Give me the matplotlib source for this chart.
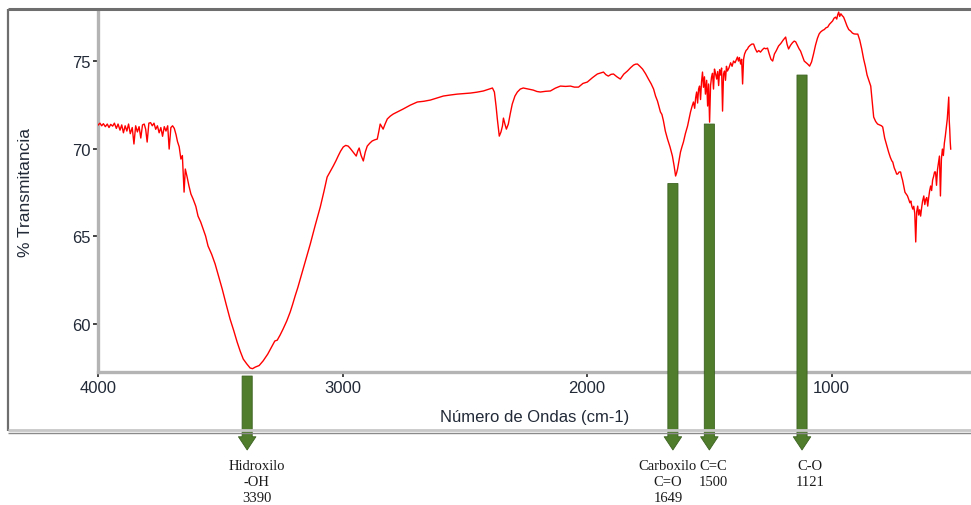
import matplotlib
matplotlib.use("Agg")
import matplotlib.pyplot as plt
from matplotlib.lines import Line2D
from matplotlib.ticker import MultipleLocator

plt.rcParams["font.family"] = ["Liberation Sans", "DejaVu Sans"]

# FTIR spectrum, split in three wavenumber ranges (cm-1) with % transmittance
wn_high = [
    4000, 3992, 3985, 3978, 3970, 3962, 3955, 3948, 3940, 3933,
    3925, 3918, 3910, 3903, 3896, 3889, 3882, 3875, 3868, 3860,
    3853, 3846, 3839, 3832, 3825, 3818, 3811, 3805, 3799, 3792,
    3785, 3778, 3771, 3764, 3757, 3750, 3743, 3736, 3729, 3722,
    3715, 3709, 3702, 3695, 3688, 3681, 3675, 3668, 3661, 3655,
    3648, 3643, 3636, 3628, 3620, 3611, 3600, 3591, 3580, 3570,
    3560, 3550, 3535, 3521, 3507, 3492, 3476, 3460, 3445, 3431,
    3418, 3406, 3392, 3378, 3368, 3357, 3341, 3325, 3306, 3288,
    3277, 3267, 3255, 3243, 3228, 3214, 3204, 3194, 3183, 3173,
    3152, 3132, 3112, 3091, 3076, 3063, 3050, 3038, 3027, 3018,
    3008, 2997, 2987, 2977, 2968, 2960, 2952, 2944, 2938, 2932,
    2924, 2915, 2907, 2899, 2889, 2879, 2868, 2858, 2852, 2846,
    2840, 2834, 2826, 2817, 2805, 2793, 2772, 2752, 2723, 2694,
    2668, 2641, 2615, 2588, 2559, 2531, 2504, 2477, 2451, 2424,
]
t_high = [
    71.34, 71.45, 71.30, 71.42, 71.25, 71.40, 71.20, 71.38, 71.28, 71.45,
    71.15, 71.40, 71.05, 71.35, 70.90, 71.30, 71.00, 71.40, 70.85, 71.20,
    70.26, 71.30, 70.95, 71.25, 70.60, 71.35, 71.40, 71.10, 70.37, 71.45,
    71.48, 71.30, 71.45, 71.10, 71.30, 70.90, 71.20, 70.70, 71.25, 71.00,
    71.30, 69.97, 71.20, 71.30, 71.15, 70.80, 70.40, 70.10, 69.40, 69.60,
    67.51, 68.83, 68.40, 67.86, 67.40, 67.11, 66.70, 66.14, 65.80, 65.40,
    65.00, 64.43, 63.95, 63.40, 62.70, 61.97, 61.10, 60.26, 59.60, 58.94,
    58.40, 57.97, 57.70, 57.46, 57.42, 57.51, 57.60, 57.86, 58.25, 58.71,
    59.00, 59.05, 59.35, 59.69, 60.15, 60.66, 61.10, 61.57, 62.05, 62.54,
    63.55, 64.54, 65.60, 66.66, 67.55, 68.37, 68.70, 69.00, 69.30, 69.57,
    69.85, 70.09, 70.18, 70.14, 70.00, 69.86, 69.72, 69.57, 69.85, 70.03,
    69.60, 69.29, 69.80, 70.14, 70.30, 70.43, 70.50, 70.54, 70.95, 71.40,
    71.25, 71.11, 71.40, 71.69, 71.85, 71.97, 72.12, 72.26, 72.48, 72.66,
    72.70, 72.77, 72.88, 73.00, 73.06, 73.11, 73.14, 73.17, 73.22, 73.29,
]

wn_mid = [
    2405, 2387, 2379, 2372, 2367, 2359, 2352, 2346, 2342, 2336,
    2330, 2322, 2314, 2306, 2295, 2285, 2273, 2261, 2240, 2220,
    2205, 2191, 2170, 2150, 2130, 2109, 2088, 2068, 2052, 2035,
    2017, 1999, 1978, 1958, 1945, 1933, 1923, 1913, 1902, 1892,
    1878, 1864, 1850, 1835, 1822, 1810, 1802, 1794, 1784, 1773,
    1761, 1749, 1738, 1728, 1720, 1712, 1706, 1700, 1694, 1688,
    1680, 1671, 1661, 1651, 1644, 1638, 1634, 1630, 1624, 1618,
    1612, 1606, 1598, 1589, 1583, 1577, 1571, 1565, 1560, 1556,
    1552, 1548, 1544, 1540, 1536, 1532, 1528, 1524, 1520, 1516,
    1511, 1507, 1503, 1499, 1495, 1491, 1487, 1483, 1479, 1475,
    1470, 1466, 1462, 1458, 1454, 1450, 1446, 1442, 1438, 1434,
]
t_mid = [
    73.38, 73.46, 73.23, 72.40, 71.69, 70.71, 70.95, 71.29, 71.74, 71.40,
    71.11, 71.40, 72.00, 72.54, 73.00, 73.23, 73.40, 73.46, 73.40, 73.34,
    73.26, 73.23, 73.27, 73.29, 73.45, 73.57, 73.55, 73.57, 73.51, 73.51,
    73.72, 73.80, 74.05, 74.26, 74.32, 74.37, 74.22, 74.14, 74.24, 74.26,
    74.10, 73.97, 74.25, 74.43, 74.62, 74.77, 74.82, 74.83, 74.70, 74.54,
    74.28, 73.97, 73.70, 73.40, 73.00, 72.71, 72.40, 72.09, 71.95, 71.60,
    71.00, 70.54, 70.10, 69.57, 69.00, 68.43, 68.60, 68.83, 69.30, 69.80,
    70.10, 70.37, 70.85, 71.29, 71.70, 72.09, 72.40, 72.66, 72.30, 72.90,
    73.23, 72.60, 73.40, 73.57, 72.80, 73.80, 74.37, 73.50, 74.10, 73.11,
    73.90, 72.43, 73.69, 71.51, 73.60, 74.09, 74.30, 73.40, 74.54, 74.30,
    73.97, 74.40, 73.60, 74.50, 74.20, 74.60, 72.14, 74.26, 74.43, 73.90,
]

wn_low = [
    1430, 1426, 1420, 1413, 1407, 1401, 1395, 1389, 1385, 1381,
    1377, 1372, 1368, 1364, 1360, 1356, 1350, 1344, 1340, 1333,
    1326, 1319, 1312, 1305, 1298, 1291, 1283, 1276, 1269, 1262,
    1255, 1248, 1241, 1234, 1226, 1217, 1208, 1198, 1188, 1182,
    1176, 1168, 1160, 1153, 1147, 1140, 1133, 1127, 1120, 1112,
    1104, 1098, 1090, 1082, 1074, 1066, 1058, 1051, 1045, 1037,
    1030, 1023, 1016, 1009, 1002, 996, 990, 984, 979, 975,
    971, 967, 962, 957, 951, 945, 937, 930, 922, 915,
    908, 900, 893, 885, 877, 869, 862, 855, 848, 840,
    834, 828, 820, 812, 804, 796, 791, 783, 775, 767,
    760, 754, 750, 744, 738, 734, 730, 724, 718, 714,
    710, 705, 700, 695, 690, 685, 680, 676, 672, 668,
    664, 660, 656, 652, 648, 644, 640, 636, 632, 628,
    623, 619, 615, 611, 607, 603, 599, 595, 591, 587,
    583, 579, 575, 571, 567, 563, 559, 555, 551, 547,
    543, 539, 535, 531, 527, 524, 521, 519, 517, 515,
    513,
]
t_low = [
    74.70, 74.43, 74.60, 74.90, 74.70, 75.00, 74.90, 75.10, 75.23, 75.00,
    75.20, 74.83, 75.10, 73.69, 75.11, 75.40, 75.60, 75.69, 75.80, 75.90,
    75.97, 75.97, 75.70, 75.51, 75.60, 75.51, 75.65, 75.74, 75.70, 75.74,
    75.40, 75.10, 75.00, 75.40, 75.60, 75.86, 76.00, 76.20, 76.37, 75.95,
    75.69, 75.90, 76.05, 76.14, 76.10, 75.90, 75.70, 75.57, 75.30, 75.00,
    74.90, 74.83, 74.71, 74.95, 75.40, 75.90, 76.30, 76.55, 76.66, 76.75,
    76.80, 76.90, 76.94, 77.10, 77.20, 77.29, 77.45, 77.51, 77.40, 77.65,
    77.80, 77.55, 77.70, 77.60, 77.51, 77.30, 77.00, 76.80, 76.71, 76.60,
    76.55, 76.54, 76.54, 76.20, 75.70, 75.11, 74.70, 74.20, 73.90, 73.57,
    72.70, 71.80, 71.55, 71.40, 71.35, 71.30, 71.23, 70.60, 70.20, 69.80,
    69.50, 69.30, 69.23, 68.90, 68.70, 68.54, 68.54, 68.66, 68.66, 68.40,
    68.20, 67.86, 67.50, 67.40, 67.30, 67.11, 66.90, 67.00, 66.70, 66.54,
    66.70, 66.30, 64.66, 66.40, 66.71, 66.20, 66.50, 66.14, 66.60, 67.00,
    67.29, 66.80, 67.10, 67.20, 66.71, 67.20, 67.60, 67.86, 67.60, 68.20,
    68.40, 68.66, 68.66, 67.90, 68.80, 69.20, 69.57, 67.29, 69.40, 69.97,
    69.60, 70.30, 70.71, 71.20, 71.69, 72.30, 72.94, 71.60, 71.11, 70.40,
    69.97,
]

# Band assignments: position (cm-1), top of the marker (% T), label
band_positions = [3390, 1649, 1500, 1121]
band_marker_tops = [57.0, 68.0, 71.4, 74.2]
band_labels = ["Hidroxilo\n-OH\n3390", "Carboxilo\nC=O\n1649", "C=C\n1500", "C-O\n1121"]
band_label_shift_pt = [7.0, -3.6, 3.0, 5.5]

x_ticks = [4000, 3000, 2000, 1000]
y_ticks = [60, 65, 70, 75]

wavenumber = wn_high + wn_mid + wn_low
transmittance = t_high + t_mid + t_low

fig = plt.figure(figsize=(9.71, 5.06), dpi=100)
ax = fig.add_axes([98 / 971, 1 - 373 / 506, 1 - 98 / 971, (373 - 12) / 506])

ax.plot(wavenumber, transmittance, color="#ff0000", linewidth=1.0, zorder=3)

ax.set_xlim(4000, 430)
ax.set_ylim(57.23, 77.86)
ax.set_xticks(x_ticks)
ax.set_yticks(y_ticks)
ax.xaxis.set_minor_locator(MultipleLocator(200))
ax.yaxis.set_minor_locator(MultipleLocator(1))

tick_color = "#222a38"
for side in ("top", "right"):
    ax.spines[side].set_visible(False)
for side in ("left", "bottom"):
    ax.spines[side].set_color("#b4b4b4")
    ax.spines[side].set_linewidth(2.4)
ax.tick_params(which="major", direction="out", length=3.5, width=1.3,
               color="#333333", labelcolor=tick_color, labelsize=12, pad=2)
ax.tick_params(which="minor", direction="inout", length=2.0, width=1.3,
               color="#444444")

ax.set_xlabel("Número de Ondas (cm-1)", fontsize=12, color=tick_color, labelpad=10)
ax.set_ylabel("% Transmitancia", fontsize=12.5, color=tick_color, labelpad=28)

# Band markers: green arrows from the spectrum down below the axis
tip_frac = -0.216
for pos, top, label, shift in zip(band_positions, band_marker_tops,
                                  band_labels, band_label_shift_pt):
    ax.annotate(
        "", xy=(pos, tip_frac), xycoords=("data", "axes fraction"),
        xytext=(pos, top), textcoords="data",
        arrowprops=dict(arrowstyle="simple,head_length=0.68,head_width=0.9,tail_width=0.52",
                        mutation_scale=14, fc="#4f7d2c", ec="#3b6120", lw=0.6,
                        shrinkA=0, shrinkB=0),
        annotation_clip=False, zorder=4,
    )
    ax.annotate(
        label, xy=(pos, -0.24), xycoords=("data", "axes fraction"),
        xytext=(shift, 0), textcoords="offset points",
        ha="center", va="top", fontsize=10.5, linespacing=1.3,
        family=["Liberation Serif", "DejaVu Serif"], color="#1a1a1a",
        annotation_clip=False,
    )

# Window frame around the plot
W, H = 971, 506
def fig_line(x0, y0, x1, y1, color, lw):
    fig.add_artist(Line2D([x0 / W, x1 / W], [1 - y0 / H, 1 - y1 / H],
                          transform=fig.transFigure, color=color, linewidth=lw,
                          solid_capstyle="butt"))

fig_line(8, 10, 971, 10, "#6e6e6e", 2.2)
fig_line(8, 10, 8, 432, "#6e6e6e", 1.6)
fig_line(8, 431, 971, 431, "#c8c8c8", 2.0)
fig_line(8, 434, 971, 434, "#8a8a8a", 1.0)

fig.savefig("out.png", dpi=100)
